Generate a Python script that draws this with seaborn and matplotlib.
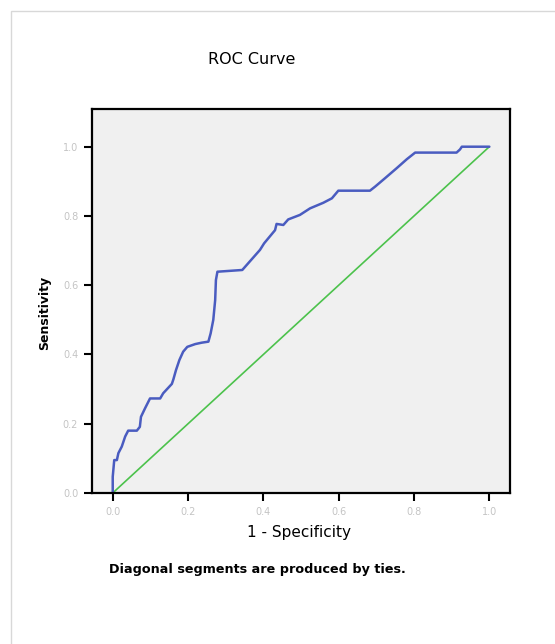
import matplotlib
matplotlib.use("Agg")
import matplotlib.pyplot as plt
import seaborn as sns
import pandas as pd
from matplotlib.patches import Rectangle

# ROC curve points
fpr = [0.0, 0.0, 0.004, 0.011, 0.015, 0.024, 0.033, 0.041, 0.064, 0.072, 0.075,
       0.086, 0.099, 0.126, 0.134, 0.157, 0.161, 0.168, 0.177, 0.187, 0.198,
       0.219, 0.236, 0.254, 0.260, 0.267, 0.272, 0.274, 0.278, 0.344, 0.391,
       0.402, 0.431, 0.435, 0.453, 0.466, 0.497, 0.524, 0.559, 0.582, 0.599,
       0.683, 0.697, 0.723, 0.754, 0.781, 0.803, 0.913, 0.922, 0.927, 1.0]
tpr = [0.0, 0.047, 0.095, 0.095, 0.115, 0.134, 0.163, 0.180, 0.180, 0.191, 0.220,
       0.245, 0.273, 0.273, 0.288, 0.315, 0.328, 0.355, 0.384, 0.408, 0.422,
       0.430, 0.434, 0.437, 0.461, 0.500, 0.557, 0.615, 0.639, 0.644, 0.702,
       0.721, 0.759, 0.777, 0.774, 0.790, 0.803, 0.822, 0.838, 0.851, 0.873,
       0.873, 0.885, 0.909, 0.938, 0.964, 0.983, 0.983, 0.992, 1.0, 1.0]
ref_x = [0.0, 1.0]
ref_y = [0.0, 1.0]

ticks = [0.0, 0.2, 0.4, 0.6, 0.8, 1.0]

roc = pd.DataFrame({"fpr": fpr, "tpr": tpr})
ref = pd.DataFrame({"x": ref_x, "y": ref_y})

sns.set_style("white")
plt.rcParams["font.family"] = ["DejaVu Sans"]
plt.rcParams["text.color"] = "black"

fig = plt.figure(figsize=(5.55, 6.44), dpi=100)
ax = fig.add_axes([0.1658, 0.2345, 0.7532, 0.5963])
ax.set_facecolor("#f0f0f0")

sns.lineplot(data=ref, x="x", y="y", ax=ax, color="#4cc24c", linewidth=1.2)
sns.lineplot(data=roc, x="fpr", y="tpr", ax=ax, sort=False,
             estimator=None, color="#4a5cc0", linewidth=1.8)

ax.set_xlim(-0.055, 1.055)
ax.set_ylim(0.0, 1.109)
ax.set_xticks(ticks)
ax.set_yticks(ticks)
ax.set_xticklabels([f"{t:.1f}" for t in ticks])
ax.set_yticklabels([f"{t:.1f}" for t in ticks])
ax.tick_params(axis="both", direction="out", length=6, width=1.5,
               color="black", labelsize=7, labelcolor="#c4c4c4", pad=4,
               bottom=True, left=True)
for sp in ax.spines.values():
    sp.set_color("black")
    sp.set_linewidth(1.6)

ax.set_xlabel("")
ax.set_ylabel("")
fig.text(299 / 555, 1 - 533 / 644, "1 - Specificity", fontsize=11,
         ha="center", va="center", color="black")
fig.text(45 / 555, 1 - 313 / 644, "Sensitivity", fontsize=9, fontweight="bold",
         rotation=90, ha="center", va="center", color="black")
fig.text(252 / 555, 1 - 60 / 644, "ROC Curve", fontsize=11.5,
         ha="center", va="center", color="black")
fig.text(257 / 555, 1 - 570 / 644, "Diagonal segments are produced by ties.",
         fontsize=9.2, fontweight="bold", ha="center", va="center",
         color="black")

# light outer frame (cropped at right and bottom)
fig.patches.append(Rectangle((11 / 555, -0.1), 1.2, 1.1 - 11 / 644,
                             transform=fig.transFigure, fill=False,
                             edgecolor="#d8d8d8", linewidth=1.0))

fig.savefig("out.png", dpi=100)
